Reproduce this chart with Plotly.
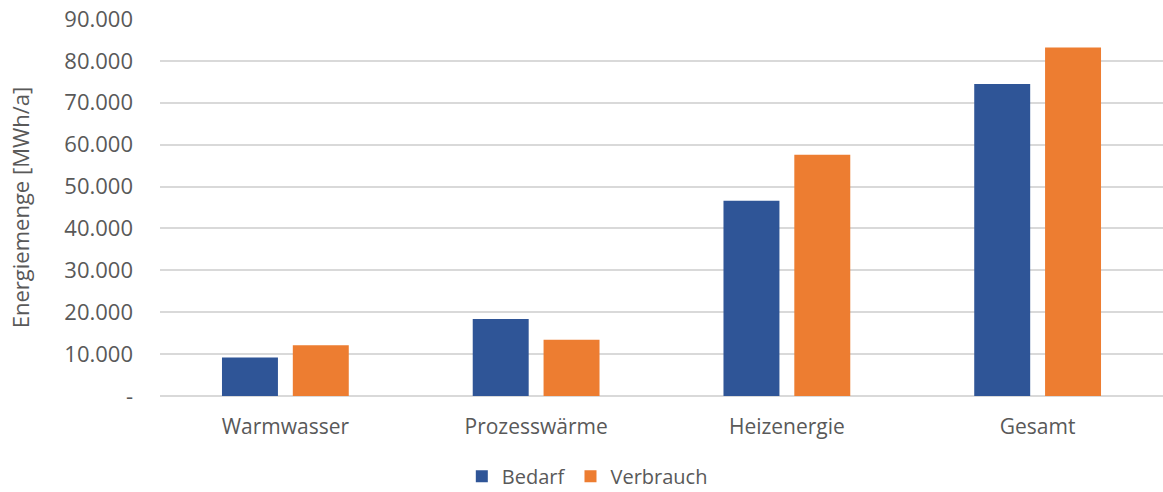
import plotly.graph_objects as go

kategorien = ["Warmwasser", "Prozesswärme", "Heizenergie", "Gesamt"]
bedarf = [9200, 18400, 46600, 74500]
verbrauch = [12100, 13400, 57600, 83200]

y_tickvals = [0, 10000, 20000, 30000, 40000, 50000, 60000, 70000, 80000, 90000]
y_ticktext = ["-", "10.000", "20.000", "30.000", "40.000", "50.000",
              "60.000", "70.000", "80.000", "90.000"]

FONT = "Open Sans"
GREY = "#595959"

fig = go.Figure()
fig.add_trace(go.Bar(x=kategorien, y=bedarf, name="Bedarf",
                     marker=dict(color="#2F5597", line=dict(width=0))))
fig.add_trace(go.Bar(x=kategorien, y=verbrauch, name="Verbrauch",
                     marker=dict(color="#ED7D31", line=dict(width=0))))

fig.update_layout(
    width=1163, height=492,
    paper_bgcolor="white", plot_bgcolor="white",
    font=dict(family=FONT, color=GREY, size=21),
    barmode="group", bargap=0.435, bargroupgap=0.21,
    margin=dict(l=160, r=0, t=19, b=96),
    showlegend=True,
    legend=dict(orientation="h", xref="container", x=0.505, xanchor="center",
                yref="container", y=0.032, yanchor="middle",
                font=dict(size=20, color=GREY), itemwidth=30,
                tracegroupgap=0, traceorder="normal"),
    xaxis=dict(showgrid=False, showline=False, ticks="",
               tickfont=dict(size=21, color=GREY), ticklabelstandoff=16),
    yaxis=dict(range=[0, 90000], tickvals=y_tickvals, ticktext=y_ticktext,
               showgrid=True, gridcolor="#D9D9D9", gridwidth=1.5,
               zeroline=True, zerolinecolor="#D9D9D9", zerolinewidth=1.5,
               showline=False, ticks="", ticklabelstandoff=26,
               tickfont=dict(size=22, color=GREY),
               title=dict(text="Energiemenge [MWh/a]", standoff=28,
                          font=dict(size=22, color=GREY))),
)

# seitenrand entfernen, damit die grafik bei 0,0 beginnt
fig.write_html("out.html", config={"displayModeBar": False},
               post_script="document.body.style.margin='0';")
